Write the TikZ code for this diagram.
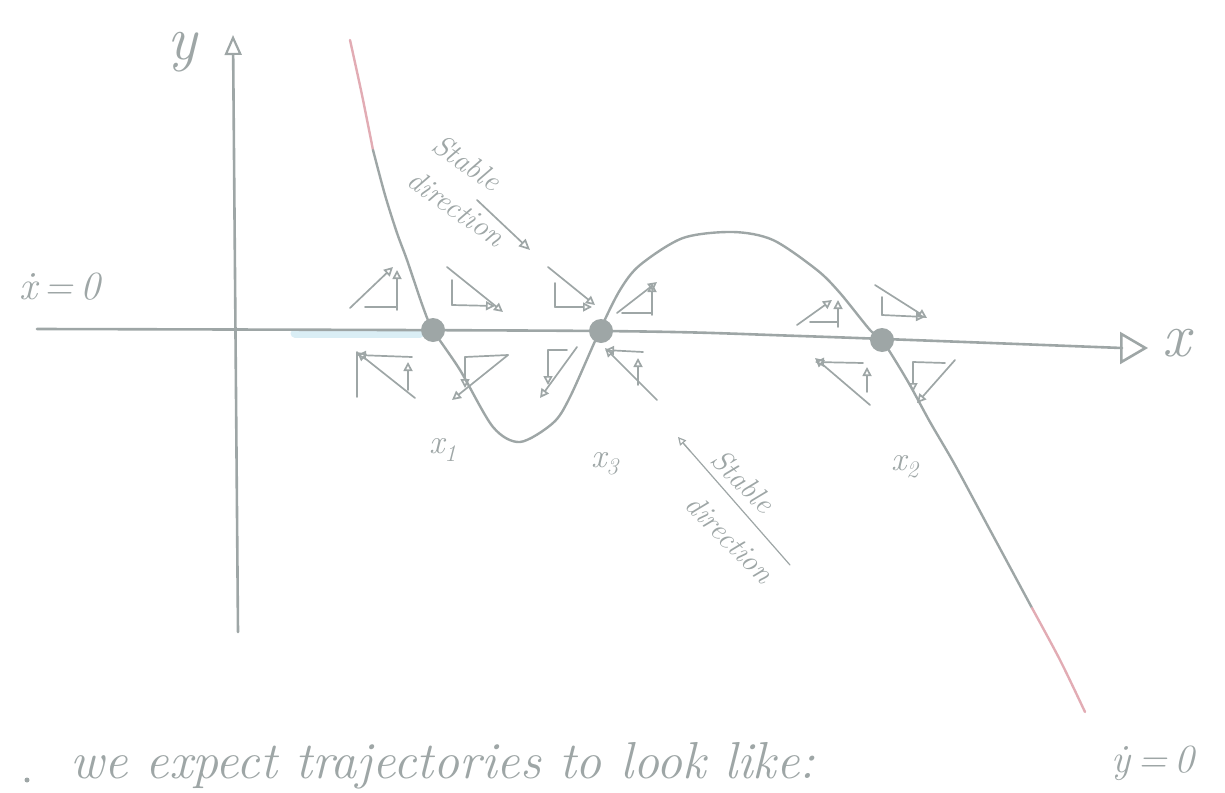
\documentclass[tikz,border=0pt]{standalone}
\usepackage{fontspec}
\usepackage{tikz}
\usetikzlibrary{arrows.meta}
\definecolor{pencil}{RGB}{158,166,166}
\definecolor{pinkline}{RGB}{226,172,180}
\definecolor{smudge}{RGB}{150,205,226}

\begin{document}
\begin{tikzpicture}[x=1pt, y=-1pt, line cap=round, line join=round,
  every node/.style={text=pencil, inner sep=0pt},
  axisline/.style={draw=pencil, line width=2.6pt},
  nullcline/.style={draw=pencil, line width=2.4pt},
  comp/.style={draw=pencil, line width=1.7pt},
  tipped/.style={comp, -{Triangle[open, length=9pt, width=9pt]}},
  eqpt/.style={circle, fill=pencil, minimum size=24pt},
  hand/.style={font=\fontsize{40}{48}\selectfont\itshape},
  big hand/.style={font=\fontsize{62}{70}\selectfont\itshape},
  label hand/.style={font=\fontsize{34}{40}\selectfont\itshape},
  note hand/.style={align=left, font=\fontsize{30}{#1}\selectfont\itshape}]
  \useasboundingbox (0,0) rectangle (1225,792);
  \draw[line width=9pt, smudge, opacity=0.35] (295,333) -- (420,333);
  \draw[axisline, -{Triangle[open, length=28pt, width=32pt, line width=2.6pt]}] plot[smooth] coordinates {(37,329) (600,331) (800,336) (1122,348)} -- (1148,348);
  \draw[axisline, -{Triangle[open, length=20pt, width=17pt, line width=2.2pt]}] (238,632) -- (233,35);
  \node[big hand] (ylabel) at (182,52) {y};
  \node[big hand, anchor=west] (xlabel) at (1162,343) {x};
  \node[hand] (xdot) at (60,287) {\.{x}\,=\,0};
  \draw[nullcline, pinkline] plot[smooth] coordinates {(350,40) (362,95) (373,150)};
  \draw[nullcline] plot[smooth] coordinates {(373,150) (385,195) (397,233) (407,260) (423,307) (433,330) (460,370) (493,427) (520,442) (553,423) (570,397) (600,330) (620,290) (640,265) (683,238) (733,232) (773,240) (817,270) (840,293) (870,330) (882,340) (907,380) (930,422) (955,465) (990,530) (1032,608)};
  \draw[nullcline, pinkline] plot[smooth] coordinates {(1032,608) (1060,660) (1085,712)};
  \node[eqpt] (x1) at (433,330) {};
  \node[eqpt] (x3) at (601,331) {};
  \node[eqpt] (x2) at (882,340) {};
  \node[label hand] (x1lab) at (443,450) {x\textsubscript{1}};
  \node[label hand] (x3lab) at (605,464) {x\textsubscript{3}};
  \node[label hand] (x2lab) at (905,467) {x\textsubscript{2}};
  \draw[comp] (365,307) -- (397,307);
  \draw[tipped] (397,310) -- (397,270);
  \draw[tipped] (350,308) -- (393,267);
  \draw[comp] (452,280) -- (452,305);
  \draw[tipped] (452,305) -- (495,306);
  \draw[tipped] (447,267) -- (503,312);
  \draw[tipped] (412,357) -- (357,355);
  \draw[tipped] (408,390) -- (408,362);
  \draw[tipped] (415,398) -- (357,352);
  \draw[comp] (357,352) -- (357,397);
  \draw[comp] (508,355) -- (465,357);
  \draw[tipped] (465,357) -- (465,388);
  \draw[tipped] (508,355) -- (452,400);
  \draw[comp] (555,283) -- (555,307);
  \draw[tipped] (555,307) -- (592,307);
  \draw[tipped] (548,267) -- (595,305);
  \draw[comp] (622,313) -- (652,313);
  \draw[tipped] (652,315) -- (652,283);
  \draw[tipped] (617,313) -- (657,282);
  \draw[comp] (567,350) -- (548,350);
  \draw[tipped] (548,350) -- (548,385);
  \draw[tipped] (577,347) -- (540,398);
  \draw[tipped] (643,352) -- (605,350);
  \draw[tipped] (638,385) -- (638,358);
  \draw[tipped] (657,400) -- (605,348);
  \draw[comp] (810,322) -- (837,322);
  \draw[tipped] (838,327) -- (838,300);
  \draw[tipped] (797,325) -- (832,300);
  \draw[comp] (882,297) -- (882,315);
  \draw[tipped] (882,315) -- (925,317);
  \draw[tipped] (875,285) -- (927,318);
  \draw[tipped] (863,363) -- (815,362);
  \draw[tipped] (867,392) -- (867,367);
  \draw[tipped] (870,405) -- (815,358);
  \draw[comp] (945,363) -- (913,362);
  \draw[tipped] (913,362) -- (913,392);
  \draw[tipped] (955,360) -- (917,403);
  \node[note hand=43, rotate=-35] (stableA) at (469,190) {Stable\\direction};
  \draw[comp, -{Triangle[open, length=11pt, width=10pt]}] (477,200) -- (530,250);
  \draw[comp, line width=1.2pt] (790,565) -- (684,444);
  \draw[comp, line width=1.2pt, -{Triangle[open, length=8pt, width=8pt]}] (690,451) -- (678,437);
  \node[note hand=50, rotate=-45] (stableB) at (743,516) {Stable\\\hspace*{14pt}direction};
  \fill[pencil] (27,780) circle (2.5pt);
  \node[font=\fontsize{52}{60}\selectfont\itshape, anchor=base west] (remark) at (70,778) {we expect trajectories to look like:};
  \node[hand, anchor=base] (ydot) at (1153,772) {\.{y}\,=\,0};
\end{tikzpicture}
\end{document}
